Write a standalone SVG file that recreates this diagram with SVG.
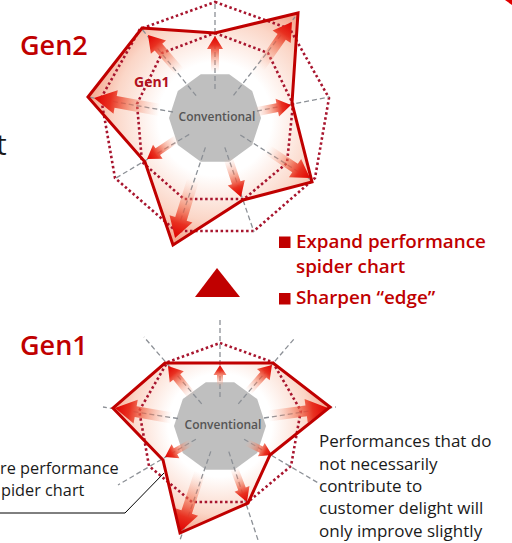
<svg xmlns="http://www.w3.org/2000/svg" width="512" height="543" viewBox="0 0 512 543">
<style>
.solid{fill:none;stroke:#c00000;stroke-width:3;stroke-linejoin:miter}
.dot{fill:none;stroke:#a8152e;stroke-width:2.6;stroke-dasharray:2.5 2.6}
.spoke{fill:none;stroke:#8c9096;stroke-width:1.3;stroke-dasharray:5 3}
.gray{fill:#bfbfbf}
.arr{fill:url(#ag)}
.conv{font-family:"Open Sans","Noto Sans",sans-serif;font-weight:600;font-size:12px;fill:#555;text-anchor:middle}
.gen{font-family:"Open Sans","Noto Sans",sans-serif;font-weight:600;font-size:27px;fill:#c00000}
.bul{font-family:"Open Sans","Noto Sans",sans-serif;font-weight:600;font-size:18.8px;fill:#c00000}
.note{font-family:"Open Sans","Noto Sans",sans-serif;font-size:17px;fill:#1a1a1a}
.noteL{font-family:"Open Sans","Noto Sans",sans-serif;font-size:16.3px;fill:#1a1a1a}
</style>
<defs>
<linearGradient id="ag" x1="0" y1="0" x2="1" y2="0">
<stop offset="0" stop-color="#f9b8a0" stop-opacity="0"/>
<stop offset="0.45" stop-color="#f07050" stop-opacity="0.6"/>
<stop offset="0.75" stop-color="#e83020"/>
<stop offset="1" stop-color="#e00000"/>
</linearGradient>
<radialGradient id="fillTop" gradientUnits="userSpaceOnUse" cx="215" cy="119" r="135">
<stop offset="0" stop-color="#ffffff"/>
<stop offset="0.42" stop-color="#ffffff"/>
<stop offset="0.75" stop-color="#fbd6c7"/>
<stop offset="1" stop-color="#f29a80"/>
</radialGradient>
<radialGradient id="fillBot" gradientUnits="userSpaceOnUse" cx="220" cy="425" r="115">
<stop offset="0" stop-color="#ffffff"/>
<stop offset="0.45" stop-color="#ffffff"/>
<stop offset="0.78" stop-color="#fbd6c7"/>
<stop offset="1" stop-color="#f29a80"/>
</radialGradient>
<polygon id="deca" points="46,0 37.2,27 14.2,43.7 -14.2,43.7 -37.2,27 -46,0 -37.2,-27 -14.2,-43.7 14.2,-43.7 37.2,-27"/>
</defs>

<!-- Gen2 chart -->
<g id="chart-gen2">
<polygon points="142,28 215,33 298,13 292,103 312,182 243,200 173,245 145,162 88,97" fill="url(#fillTop)"/>
<use href="#deca" class="gray" transform="translate(215,118)"/>
<polygon class="dot" points="215,2 290,29 329,98 315,178 254,231 176,231 115,178 101,98 140,29"/>
<polygon class="dot" points="215,33 268,53 293,104 287,163 244,199 184,199 142,162 137,104 162,53"/>
<g class="spoke">
<line x1="215" y1="89" x2="215" y2="1"/>
<line x1="233.5" y1="95.4" x2="295" y2="17"/>
<line x1="257" y1="111" x2="329" y2="97"/>
<line x1="240.3" y1="135" x2="313" y2="181"/>
<line x1="224.8" y1="147.4" x2="254" y2="232"/>
<line x1="205.4" y1="147.4" x2="176" y2="234"/>
<line x1="189.2" y1="134.4" x2="116" y2="178"/>
<line x1="173" y1="112" x2="88" y2="97"/>
<line x1="196.1" y1="95.7" x2="141" y2="28"/>
</g>
<g id="arrows-gen2">
<path class="arr" transform="translate(215,72) rotate(-90)" d="M0,-4 L23,-4 L23,-8 L36,0 L23,8 L23,4 L0,4 Z"/>
<path class="arr" transform="translate(180,72) rotate(-130.9)" d="M0,-5 L32.9,-5 L32.9,-10 L48.9,0 L32.9,10 L32.9,5 L0,5 Z"/>
<path class="arr" transform="translate(260,68) rotate(-55.2)" d="M0,-5 L38,-5 L38,-11 L56,0 L38,11 L38,5 L0,5 Z"/>
<path class="arr" transform="translate(255,112) rotate(-11)" d="M0,-4.5 L22.7,-4.5 L22.7,-9 L36.7,0 L22.7,9 L22.7,4.5 L0,4.5 Z"/>
<path class="arr" transform="translate(268,150) rotate(33.7)" d="M0,-5 L32.5,-5 L32.5,-11 L50.5,0 L32.5,11 L32.5,5 L0,5 Z"/>
<path class="arr" transform="translate(228,158) rotate(71.6)" d="M0,-4.5 L26.1,-4.5 L26.1,-9 L41.1,0 L26.1,9 L26.1,4.5 L0,4.5 Z"/>
<path class="arr" transform="translate(193,180) rotate(107.2)" d="M0,-6 L40.7,-6 L40.7,-12 L60.7,0 L40.7,12 L40.7,6 L0,6 Z"/>
<path class="arr" transform="translate(178,138) rotate(145.9)" d="M0,-4 L24.4,-4 L24.4,-8.5 L37.4,0 L24.4,8.5 L24.4,4 L0,4 Z"/>
<path class="arr" transform="translate(160,110) rotate(-169.7)" d="M0,-6 L45.1,-6 L45.1,-12 L67.1,0 L45.1,12 L45.1,6 L0,6 Z"/>
</g>
<polygon class="solid" points="142,28 215,33 298,13 292,103 312,182 243,200 173,245 145,162 88,97"/>
<text class="conv" x="217" y="121">Conventional</text>
<text x="134" y="87" style="font-family:'Open Sans','Noto Sans',sans-serif;font-weight:700;font-size:14px;fill:#b01020">Gen1</text>
</g>

<!-- Gen1 chart -->
<g id="chart-gen1">
<polygon points="165,363 273,363 330,407 270,455 248,503 180,533 163,460 113,408" fill="url(#fillBot)"/>
<use href="#deca" class="gray" transform="translate(220,426)"/>
<polygon class="dot" points="220,343 272.7,362.2 300.8,410.8 291,466 248,502 192,502 149,466 139.2,410.8 167.3,362.2"/>
<g class="spoke">
<line x1="220" y1="397" x2="220" y2="318"/>
<line x1="238.3" y1="403.8" x2="294" y2="339"/>
<line x1="264" y1="418" x2="336" y2="407"/>
<line x1="244.1" y1="439.2" x2="320" y2="484"/>
<line x1="228.8" y1="451.6" x2="258" y2="540"/>
<line x1="210.8" y1="451.4" x2="180" y2="540"/>
<line x1="195.9" y1="439.2" x2="118" y2="485"/>
<line x1="178" y1="418.5" x2="103" y2="407"/>
<line x1="201.7" y1="403.8" x2="144" y2="337"/>
</g>
<g id="arrows-gen1">
<path class="arr" transform="translate(192,396) rotate(-128.7)" d="M0,-4.5 L24.4,-4.5 L24.4,-9 L38.4,0 L24.4,9 L24.4,4.5 L0,4.5 Z"/>
<path class="arr" transform="translate(220,387) rotate(-90)" d="M0,-3 L12,-3 L12,-6.5 L22,0 L12,6.5 L12,3 L0,3 Z"/>
<path class="arr" transform="translate(248,392) rotate(-48.4)" d="M0,-4 L23.1,-4 L23.1,-8.5 L36.1,0 L23.1,8.5 L23.1,4 L0,4 Z"/>
<path class="arr" transform="translate(268,416) rotate(-7.6)" d="M0,-5.5 L38.5,-5.5 L38.5,-12 L60.5,0 L38.5,12 L38.5,5.5 L0,5.5 Z"/>
<path class="arr" transform="translate(246,442) rotate(26.6)" d="M0,-3.5 L17.1,-3.5 L17.1,-7.5 L29.1,0 L17.1,7.5 L17.1,3.5 L0,3.5 Z"/>
<path class="arr" transform="translate(234,468) rotate(69.1)" d="M0,-4 L22.4,-4 L22.4,-8 L36.4,0 L22.4,8 L22.4,4 L0,4 Z"/>
<path class="arr" transform="translate(200,472) rotate(108.4)" d="M0,-5.5 L42.2,-5.5 L42.2,-12 L63.2,0 L42.2,12 L42.2,5.5 L0,5.5 Z"/>
<path class="arr" transform="translate(192,442) rotate(150.9)" d="M0,-3.5 L18.9,-3.5 L18.9,-8 L30.9,0 L18.9,8 L18.9,3.5 L0,3.5 Z"/>
<path class="arr" transform="translate(172,418) rotate(-170)" d="M0,-5.5 L36.9,-5.5 L36.9,-12 L57.9,0 L36.9,12 L36.9,5.5 L0,5.5 Z"/>
</g>
<polygon class="solid" points="165,363 273,363 330,407 270,455 248,503 180,533 163,460 113,408"/>
<text class="conv" x="223" y="429">Conventional</text>
</g>

<!-- labels -->
<g id="label-gen2"><text class="gen" x="20" y="55">Gen2</text></g>
<g id="label-gen1"><text class="gen" x="20" y="355">Gen1</text></g>
<g id="up-triangle"><polygon points="217,268 240,297 195,297" fill="#c00000"/></g>
<g id="bullets">
<rect x="279" y="236.5" width="11.5" height="11.5" fill="#c00000"/>
<text class="bul" x="296" y="248">Expand performance</text>
<text class="bul" x="296" y="273">spider chart</text>
<rect x="279" y="293" width="11.5" height="11.5" fill="#c00000"/>
<text class="bul" x="296" y="304">Sharpen “edge”</text>
</g>
<g id="note-right">
<text class="note" x="319" y="447">Performances that do</text>
<text class="note" x="319" y="470">not necessarily</text>
<text class="note" x="319" y="492">contribute to</text>
<text class="note" x="319" y="514">customer delight will</text>
<text class="note" x="319" y="537">only improve slightly</text>
</g>
<g id="note-left">
<text class="noteL" x="0" y="474">re performance</text>
<text class="noteL" x="1" y="496">pider chart</text>
</g>
<g id="connectors">
<polyline points="0,513 125,513 164,473" fill="none" stroke="#000" stroke-width="1"/>
</g>
<text x="-4" y="155" style="font-family:'Open Sans','Noto Sans',sans-serif;font-size:30px;fill:#1a1a1a">t</text>
<polygon points="505,0 512,0 512,5" fill="#e00000"/>
</svg>
